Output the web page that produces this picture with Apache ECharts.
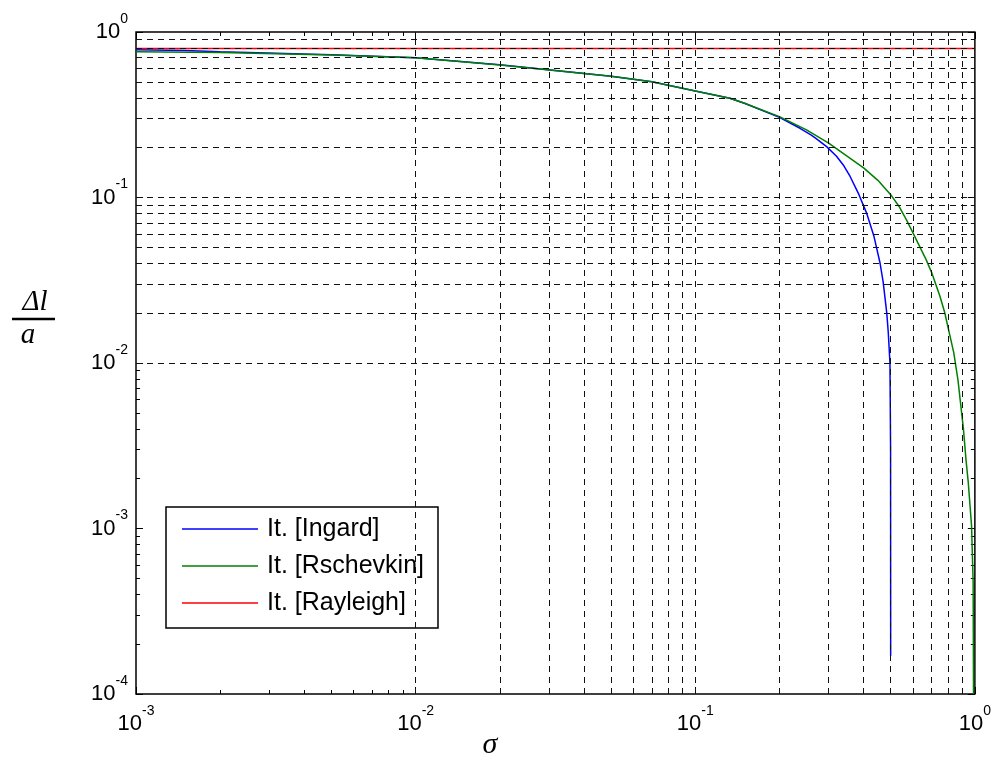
<!DOCTYPE html>
<html><head><meta charset="utf-8">
<script src="https://cdn.jsdelivr.net/npm/echarts@6/dist/echarts.min.js"></script>
<style>html,body{margin:0;padding:0;background:#fff}#c{width:994px;height:769px}</style>
</head><body><div id="c"></div>
<script>
// ---- data ----
const xDecades = [0.001, 0.01, 0.1, 1];
const yDecades = [0.0001, 0.001, 0.01, 0.1, 1];
const seriesNames = ['It. [Ingard]', 'It. [Rschevkin]', 'It. [Rayleigh]'];

const sigmaIngard = [0.001, 0.0015, 0.002, 0.005, 0.01, 0.02, 0.05, 0.07, 0.1, 0.133, 0.15, 0.2, 0.237, 0.26, 0.27, 0.295, 0.32, 0.34, 0.358, 0.385, 0.41, 0.435, 0.458, 0.47, 0.484, 0.49, 0.497, 0.4995, 0.4999];
const valIngard   = [0.78, 0.772, 0.76, 0.728, 0.70, 0.635, 0.54, 0.50, 0.44, 0.398, 0.371, 0.305, 0.262, 0.238, 0.2275, 0.203, 0.1774, 0.1554, 0.134, 0.104, 0.0805, 0.0588, 0.0402, 0.0308, 0.0201, 0.0154, 0.01, 0.003, 0.00017];

const sigmaRschevkin = [0.001, 0.002, 0.005, 0.01, 0.02, 0.05, 0.07, 0.1, 0.133, 0.15, 0.2, 0.25, 0.3, 0.35, 0.4, 0.45, 0.5, 0.535, 0.57, 0.6, 0.67, 0.7, 0.75, 0.78, 0.81, 0.84, 0.87, 0.89, 0.91, 0.93, 0.947, 0.96, 0.973, 0.986, 0.989];
const valRschevkin   = [0.76, 0.752, 0.725, 0.70, 0.632, 0.54, 0.50, 0.44, 0.398, 0.371, 0.308, 0.256, 0.213, 0.177, 0.151, 0.127, 0.104, 0.0886, 0.073, 0.0614, 0.042, 0.0353, 0.0253, 0.0202, 0.0152, 0.0116, 0.0079, 0.0056, 0.004, 0.00258, 0.0019, 0.0014, 0.00104, 0.00047, 0.0001];

const sigmaRayleigh = [0.001, 1];
const valRayleigh   = [0.795, 0.795];

// ---- helpers ----
function zip(xs, ys){ return xs.map((x, i) => [x, ys[i]]); }
function minorValues(dec){ const out = []; for (let i = 0; i < dec.length - 1; i++) for (let k = 2; k <= 9; k++) out.push(+(dec[i] * k).toPrecision(6)); return out; }
const xMinor = minorValues(xDecades), yMinor = minorValues(yDecades);
const xGridVals = xMinor.concat(xDecades.slice(1, -1));
const yGridVals = yMinor.concat(yDecades.slice(1, -1));

const FONT = '"Liberation Sans", Arial, sans-serif';
const rich = {
  b: { fontFamily: FONT, fontSize: 22, color: '#000', lineHeight: 40 },
  s: { fontFamily: FONT, fontSize: 14, color: '#000', verticalAlign: 'top' }
};
function expLabel(v){ const e = Math.round(Math.log10(v)); return '{b|10}{s|' + e + '}'; }

const gridLineStyle = { color: '#111', width: 1, type: [6, 5] };

function logX(extra){ return Object.assign({ type: 'log', logBase: 10, min: 0.001, max: 1, gridIndex: 0,
  axisLine: { show: false }, splitLine: { show: false }, axisLabel: { show: false },
  axisTick: { show: false } }, extra); }
function logY(extra){ return Object.assign({ type: 'log', logBase: 10, min: 0.0001, max: 1, gridIndex: 0,
  axisLine: { show: false }, splitLine: { show: false }, axisLabel: { show: false },
  axisTick: { show: false } }, extra); }

const chart = echarts.init(document.getElementById('c'), null, { renderer: 'canvas' });
chart.setOption({
  animation: false,
  backgroundColor: '#fff',
  grid: { left: 136, right: 18, top: 32, bottom: 75, show: true, borderColor: '#000', borderWidth: 1.5, backgroundColor: 'transparent', containLabel: false },
  xAxis: [
    logX({ position: 'bottom', axisLabel: { show: true, margin: 10, formatter: expLabel, rich: rich },
           axisTick: { show: true, inside: true, length: 7, lineStyle: { color: '#000' } } }),
    logX({ position: 'top', axisTick: { show: true, inside: true, length: 7, lineStyle: { color: '#000' } } }),
    logX({ position: 'bottom', axisTick: { show: true, inside: true, length: 4, customValues: xMinor, lineStyle: { color: '#000' } } }),
    logX({ position: 'top', axisTick: { show: true, inside: true, length: 4, customValues: xMinor, lineStyle: { color: '#000' } } })
  ],
  yAxis: [
    logY({ position: 'left', axisLabel: { show: true, margin: 8, formatter: expLabel, rich: rich },
           axisTick: { show: true, inside: true, length: 7, lineStyle: { color: '#000' } } }),
    logY({ position: 'right', axisTick: { show: true, inside: true, length: 7, lineStyle: { color: '#000' } } }),
    logY({ position: 'left', axisTick: { show: true, inside: true, length: 4, customValues: yMinor, lineStyle: { color: '#000' } } }),
    logY({ position: 'right', axisTick: { show: true, inside: true, length: 4, customValues: yMinor, lineStyle: { color: '#000' } } })
  ],
  legend: {
    data: seriesNames,
    orient: 'vertical',
    left: 166, top: 507,
    padding: [9, 14, 12, 16],
    itemGap: 11,
    itemWidth: 76, itemHeight: 1.5,
    icon: 'rect',
    backgroundColor: '#fff',
    borderColor: '#000', borderWidth: 1.5, borderRadius: 0,
    textStyle: { fontFamily: FONT, fontSize: 25, color: '#000', lineHeight: 26, padding: [0, 0, 0, 4] },
    selectedMode: false
  },
  graphic: [
    { type: 'text', x: 35, y: 302, style: { text: 'Δl', font: 'italic 29px "Liberation Serif", serif', fill: '#000', align: 'center', verticalAlign: 'middle' } },
    { type: 'line', shape: { x1: 12, y1: 319, x2: 55, y2: 319 }, style: { stroke: '#000', lineWidth: 2.5 } },
    { type: 'text', x: 28, y: 335, style: { text: 'a', font: 'italic 29px "Liberation Serif", serif', fill: '#000', align: 'center', verticalAlign: 'middle' } },
    { type: 'text', x: 490, y: 745, style: { text: 'σ', font: 'italic 30px "Liberation Serif", serif', fill: '#000', align: 'center', verticalAlign: 'middle' } }
  ],
  series: [
    { type: 'line', name: 'gridlines', data: [], silent: true, xAxisIndex: 0, yAxisIndex: 0,
      markLine: { silent: true, symbol: 'none', label: { show: false }, lineStyle: gridLineStyle, animation: false,
        data: xGridVals.map(v => ({ xAxis: v })).concat(yGridVals.map(v => ({ yAxis: v }))) } },
    { type: 'line', name: seriesNames[0], data: zip(sigmaIngard, valIngard), xAxisIndex: 0, yAxisIndex: 0,
      symbol: 'none', smooth: false, color: '#0000ff', lineStyle: { color: '#0000ff', width: 1.5 } },
    { type: 'line', name: seriesNames[1], data: zip(sigmaRschevkin, valRschevkin), xAxisIndex: 0, yAxisIndex: 0,
      symbol: 'none', smooth: false, color: '#008000', lineStyle: { color: '#008000', width: 1.5 } },
    { type: 'line', name: seriesNames[2], data: zip(sigmaRayleigh, valRayleigh), xAxisIndex: 0, yAxisIndex: 0,
      symbol: 'none', color: '#ff0000', lineStyle: { color: '#ff0000', width: 1.5 } }
  ]
});
</script>
</body></html>
